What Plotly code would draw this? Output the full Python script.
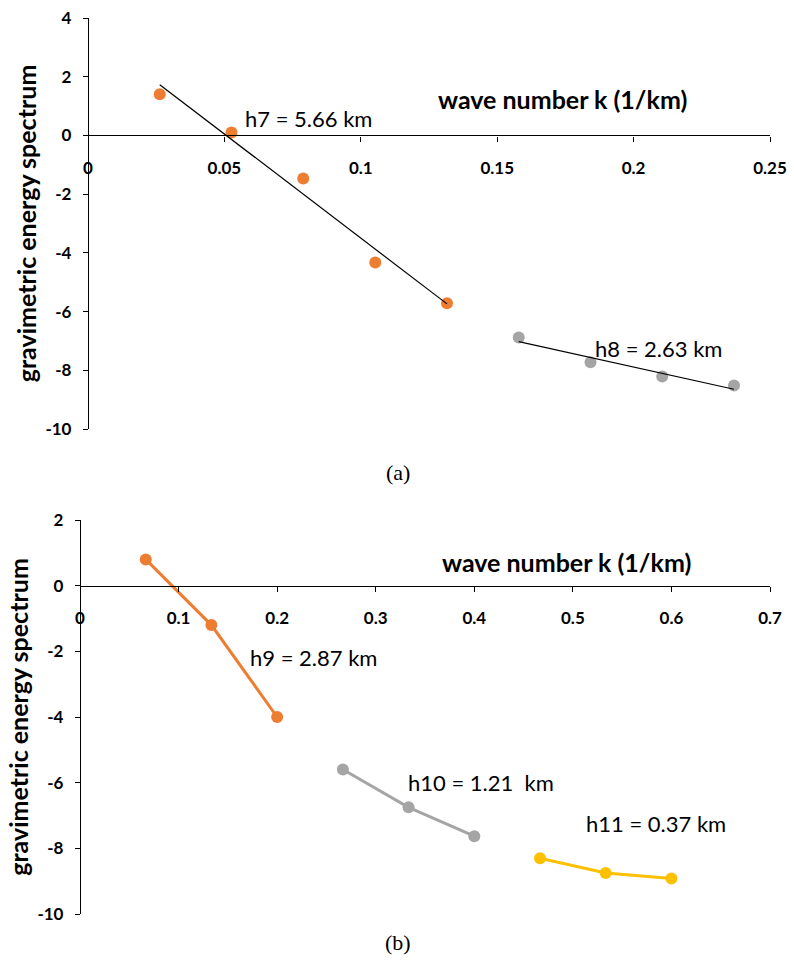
import numpy as np
import plotly.graph_objects as go

# ---------------- data ----------------
# (a)
k_a_h7 = [0.0263, 0.0526, 0.0789, 0.1053, 0.1316]
s_a_h7 = [1.40, 0.10, -1.47, -4.33, -5.72]
k_a_h8 = [0.1579, 0.1842, 0.2105, 0.2368]
s_a_h8 = [-6.88, -7.73, -8.21, -8.52]
# (b)
k_b_h9 = [0.0667, 0.1333, 0.2000]
s_b_h9 = [0.80, -1.20, -4.00]
k_b_h10 = [0.2667, 0.3333, 0.4000]
s_b_h10 = [-5.60, -6.75, -7.63]
k_b_h11 = [0.4667, 0.5333, 0.6000]
s_b_h11 = [-8.30, -8.75, -8.92]

xticks_a = [0, 0.05, 0.1, 0.15, 0.2, 0.25]
xtext_a = ["0", "0.05", "0.1", "0.15", "0.2", "0.25"]
yticks_a = [-10, -8, -6, -4, -2, 0, 2, 4]
ytext_a = ["-10", "-8", "-6", "-4", "-2", "0", "2", "4"]
xticks_b = [0, 0.1, 0.2, 0.3, 0.4, 0.5, 0.6, 0.7]
xtext_b = ["0", "0.1", "0.2", "0.3", "0.4", "0.5", "0.6", "0.7"]
yticks_b = [-10, -8, -6, -4, -2, 0, 2]
ytext_b = ["-10", "-8", "-6", "-4", "-2", "0", "2"]

labels_a = ["h7 = 5.66 km", "h8 = 2.63 km"]
labels_b = ["h9 = 2.87 km", "h10 = 1.21  km", "h11 = 0.37 km"]

ORANGE = "#ED7D31"
GRAY = "#A5A5A5"
YELLOW = "#FFC000"

W, H = 794, 962
FONT = "Lato"

def px_x(p):
    return p / W

def px_y(p):
    return 1 - p / H

fig = go.Figure()

# ---- panel (a): scatter + linear trend lines
fig.add_trace(go.Scatter(x=k_a_h7, y=s_a_h7, mode="markers",
                         marker=dict(color=ORANGE, size=12), xaxis="x", yaxis="y",
                         showlegend=False))
fig.add_trace(go.Scatter(x=k_a_h8, y=s_a_h8, mode="markers",
                         marker=dict(color=GRAY, size=12), xaxis="x", yaxis="y",
                         showlegend=False))
for kk, ss in [(k_a_h7, s_a_h7), (k_a_h8, s_a_h8)]:
    c = np.polyfit(kk, ss, 1)
    xs = [kk[0], kk[-1]]
    fig.add_trace(go.Scatter(x=xs, y=list(np.polyval(c, xs)), mode="lines",
                             line=dict(color="black", width=1.2), xaxis="x", yaxis="y",
                             showlegend=False))

# ---- panel (b): lines + markers
for kk, ss, col in [(k_b_h9, s_b_h9, ORANGE), (k_b_h10, s_b_h10, GRAY), (k_b_h11, s_b_h11, YELLOW)]:
    fig.add_trace(go.Scatter(x=kk, y=ss, mode="lines+markers",
                             line=dict(color=col, width=3),
                             marker=dict(color=col, size=12),
                             xaxis="x2", yaxis="y2", showlegend=False))

# ---- axes geometry
xd_a = [px_x(88), px_x(770)]
yd_a = [px_y(429), px_y(18)]
yr_a = [-10, 4]
xd_b = [px_x(80), px_x(770)]
yd_b = [px_y(914), px_y(520)]
yr_b = [-10, 2]

def zero_pos(yd, yr):
    return yd[0] + (0 - yr[0]) / (yr[1] - yr[0]) * (yd[1] - yd[0])

tickfont = dict(family=FONT, size=17, color="black", weight="bold")
axis_common = dict(showgrid=False, zeroline=False, showline=True, linecolor="black",
                   linewidth=1.3, ticks="outside", ticklen=5, tickcolor="black",
                   tickwidth=1.3, tickfont=tickfont, automargin=False)
ytitle_font = dict(family=FONT, size=25, color="black", weight="bold")

fig.update_layout(
    width=W, height=H, margin=dict(l=0, r=0, t=0, b=0),
    paper_bgcolor="white", plot_bgcolor="white",
    xaxis=dict(domain=xd_a, range=[0, 0.25], anchor="free", position=zero_pos(yd_a, yr_a),
               tickvals=xticks_a, ticktext=xtext_a, ticklabelstandoff=12, **axis_common),
    yaxis=dict(domain=yd_a, range=yr_a, anchor="free", position=xd_a[0],
               tickvals=yticks_a, ticktext=ytext_a, ticklabelstandoff=8,
               title=dict(text="gravimetric energy spectrum", font=ytitle_font, standoff=0),
               **axis_common),
    xaxis2=dict(domain=xd_b, range=[0, 0.7], anchor="free", position=zero_pos(yd_b, yr_b),
                tickvals=xticks_b, ticktext=xtext_b, ticklabelstandoff=12, **axis_common),
    yaxis2=dict(domain=yd_b, range=yr_b, anchor="free", position=xd_b[0],
                tickvals=yticks_b, ticktext=ytext_b, ticklabelstandoff=8,
                title=dict(text="gravimetric energy spectrum", font=ytitle_font, standoff=0),
                **axis_common),
)

ann_font = dict(family=FONT, size=22, color="black")
title_font = dict(family=FONT, size=25, color="black", weight="bold")
annotations = [
    dict(x=0.0568, y=0.58, xref="x", yref="y", text=labels_a[0], showarrow=False,
         xanchor="left", yanchor="middle", font=ann_font),
    dict(x=0.1851, y=-7.26, xref="x", yref="y", text=labels_a[1], showarrow=False,
         xanchor="left", yanchor="middle", font=ann_font),
    dict(x=0.1738, y=1.23, xref="x", yref="y", text="wave number k (1/km)", showarrow=False,
         xanchor="center", yanchor="middle", font=title_font),
    dict(x=0.1704, y=-2.2, xref="x2", yref="y2", text=labels_b[0], showarrow=False,
         xanchor="left", yanchor="middle", font=ann_font),
    dict(x=0.3306, y=-6.0, xref="x2", yref="y2", text=labels_b[1], showarrow=False,
         xanchor="left", yanchor="middle", font=ann_font),
    dict(x=0.511, y=-7.23, xref="x2", yref="y2", text=labels_b[2], showarrow=False,
         xanchor="left", yanchor="middle", font=ann_font),
    dict(x=0.494, y=0.73, xref="x2", yref="y2", text="wave number k (1/km)", showarrow=False,
         xanchor="center", yanchor="middle", font=title_font),
    dict(x=px_x(398), y=px_y(472), xref="paper", yref="paper", text="(a)", showarrow=False,
         xanchor="center", yanchor="middle",
         font=dict(family="Liberation Serif", size=22, color="black")),
    dict(x=px_x(398), y=px_y(942), xref="paper", yref="paper", text="(b)", showarrow=False,
         xanchor="center", yanchor="middle",
         font=dict(family="Liberation Serif", size=22, color="black")),
]
fig.update_layout(annotations=annotations)

fig.write_html("out.html")
